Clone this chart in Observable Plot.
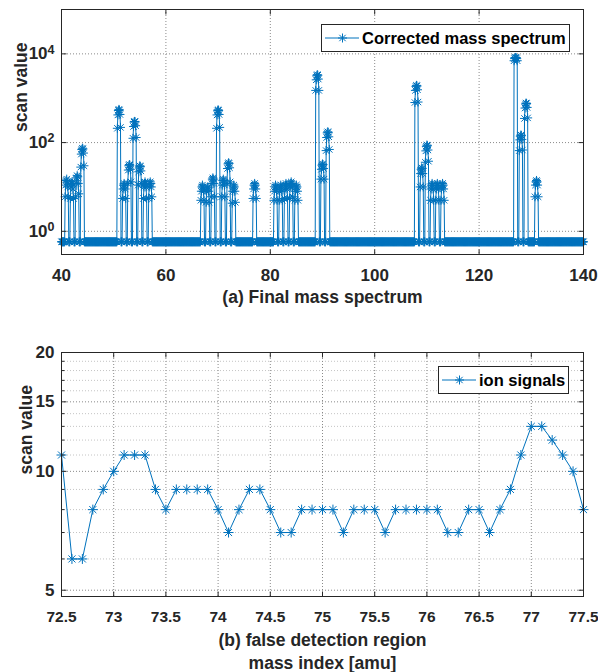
<!DOCTYPE html>
<html><head><meta charset="utf-8">
<script src="https://cdn.jsdelivr.net/npm/d3@7"></script>
<script src="https://cdn.jsdelivr.net/npm/@observablehq/plot@0.6"></script>
<style>
body{margin:0;background:#fff;}
#wrap{position:relative;width:598px;height:672px;font-family:"Liberation Sans",Arial,Helvetica,sans-serif;}
#wrap svg{display:block;}
.legend{position:absolute;background:#fff;border:1px solid #262626;box-sizing:border-box;font-weight:bold;font-size:16.5px;color:#000;white-space:nowrap;}
.legend svg{position:absolute;left:0;top:0;}
.legend span{position:absolute;left:40px;top:50%;transform:translateY(-50%);line-height:1;}
</style></head><body><div id="wrap"></div>
<script>
// ---------- data: panel (a) ----------
const baselineLevel = 0.58;
const profileOffsets = [-0.3, -0.2, -0.1, 0, 0.1, 0.2, 0.3];
const peakMasses = [41,42,43,44,51,52,53,54,55,56,57,67,68,69,70,71,72,73,77,81,82,83,84,85,89,90,91,108,109,110,111,112,113,127,128,129,131];
const peakProfiles = [
  [6, 11, 14, 15, 13, 10, 6],
  [5.5, 10, 12, 13, 12, 9, 5.5],
  [6, 12, 16, 18, 17, 12, 7],
  [28, 55, 70, 75, 72, 58, 30],
  [210, 420, 530, 560, 540, 430, 220],
  [5.5, 9, 11, 12, 11, 9, 5.5],
  [12, 24, 30, 32, 31, 25, 13],
  [125, 230, 290, 300, 295, 240, 130],
  [11, 22, 28, 30, 29, 23, 12],
  [5.5, 10, 12, 13, 12, 10, 5.5],
  [5.5, 10, 12, 13, 12, 10, 6],
  [5, 8, 10, 11, 10, 8, 5],
  [4.5, 8, 9.5, 10, 9.5, 8, 4.5],
  [6, 12, 15, 16, 15, 12, 6],
  [210, 420, 520, 550, 530, 430, 220],
  [6, 11, 14, 15, 14, 11, 6],
  [12, 26, 33, 35, 34, 27, 13],
  [4.3, 8, 10, 11, 10, 8, 4.5],
  [5.5, 9, 11, 12, 11, 9, 5.5],
  [5, 8, 10, 11, 10, 8, 5],
  [5, 8, 10, 11, 10, 8, 5],
  [5.5, 9, 11, 12, 11, 9, 5.5],
  [5.5, 10, 12, 13, 12, 10, 6],
  [5, 8, 10, 11, 10, 8, 5],
  [1500, 2600, 3200, 3400, 3300, 2700, 1500],
  [15, 25, 31, 33, 32, 26, 15],
  [66, 130, 165, 175, 170, 135, 70],
  [800, 1500, 1850, 1950, 1900, 1550, 820],
  [10, 20, 25, 27, 26, 20, 10],
  [36, 65, 82, 88, 85, 68, 38],
  [5, 9, 11, 12, 11, 9, 5],
  [5, 9, 11, 12, 11, 9, 5],
  [5, 9, 11, 12, 11, 9, 5],
  [7000, 7800, 8200, 8300, 8200, 7800, 7000],
  [66, 115, 140, 148, 145, 118, 68],
  [350, 600, 740, 780, 760, 620, 360],
  [6, 11, 13, 14, 13, 11, 6]
];
const xTicksA = [40, 60, 80, 100, 120, 140];
const yTicksA = [1, 100, 10000];

// ---------- data: panel (b) ----------
const zoomSignal = [11,6,6,8,9, 10,11,11,11,9,8,9,9,9,9, 8,7,8,9,9,8,7,7,8,8, 8,8,7,8,8,8,7,8,8,8, 8,8,7,7,8,8,7,8,9,11, 13,13,12,11,10,8];
const xTicksB = [72.5, 73, 73.5, 74, 74.5, 75, 75.5, 76, 76.5, 77, 77.5];
const yTicksB = [5, 10, 15, 20];
const yMinorB = [6, 7, 8, 9, 11, 12, 13, 14, 16, 17, 18, 19];

// ---------- build tables ----------
const spectrum = d3.range(400, 1401).map(i => ({mass: i / 10, value: baselineLevel}));
peakMasses.forEach((m, k) => peakProfiles[k].forEach((v, j) => {
  const idx = Math.round((m + profileOffsets[j]) * 10) - 400;
  spectrum[idx].value = v;
}));
const zoomData = zoomSignal.map((v, i) => ({mass: (725 + i) / 10, value: v}));

// ---------- styling helpers ----------
const blue = "#0072BD";
const ink = "#262626";
const font = '"Liberation Sans", Arial, Helvetica, sans-serif';
const asterisk = {draw(c, size) {
  const r = Math.sqrt(size / Math.PI), d = r * Math.SQRT1_2;
  c.moveTo(-r, 0); c.lineTo(r, 0); c.moveTo(0, -r); c.lineTo(0, r);
  c.moveTo(-d, -d); c.lineTo(d, d); c.moveTo(-d, d); c.lineTo(d, -d);
}};
const tickSym = (dx, dy) => ({draw(c) { c.moveTo(0, 0); c.lineTo(dx, dy); }});
const gridMajor = {stroke: "#8a8a8a", strokeDasharray: "1,2", strokeWidth: 1};
const gridMinor = {stroke: "#c4c4c4", strokeDasharray: "1,2", strokeWidth: 1};
const styleObj = {fontFamily: font, fontSize: "17px", fontWeight: "bold", color: ink, background: "white", overflow: "visible"};

function tickMarks(xs, ys, xDom, yDom, len, minorYs, minorLen) {
  const m = [
    Plot.dot(xs, {x: d => d, y: yDom[0], symbol: tickSym(0, -len), r: 1, stroke: ink, fill: "none", strokeWidth: 1}),
    Plot.dot(xs, {x: d => d, y: yDom[1], symbol: tickSym(0, len), r: 1, stroke: ink, fill: "none", strokeWidth: 1}),
    Plot.dot(ys, {x: xDom[0], y: d => d, symbol: tickSym(len, 0), r: 1, stroke: ink, fill: "none", strokeWidth: 1}),
    Plot.dot(ys, {x: xDom[1], y: d => d, symbol: tickSym(-len, 0), r: 1, stroke: ink, fill: "none", strokeWidth: 1})
  ];
  if (minorYs) {
    m.push(Plot.dot(minorYs, {x: xDom[0], y: d => d, symbol: tickSym(minorLen, 0), r: 1, stroke: ink, fill: "none", strokeWidth: 1}));
    m.push(Plot.dot(minorYs, {x: xDom[1], y: d => d, symbol: tickSym(-minorLen, 0), r: 1, stroke: ink, fill: "none", strokeWidth: 1}));
  }
  return m;
}

// ---------- panel (a) ----------
const xDomA = [40, 140], yDomA = [0.3, 1e5];
const plotA = Plot.plot({
  width: 598, height: 320,
  marginTop: 9, marginBottom: 66, marginLeft: 61, marginRight: 15,
  style: styleObj,
  x: {domain: xDomA, ticks: xTicksA, tickSize: 0, tickPadding: 14, label: null, tickFormat: d => String(d)},
  y: {type: "log", domain: yDomA, ticks: yTicksA, tickSize: 0, tickPadding: 7, label: null,
      tickFormat: d => "10^" + Math.round(Math.log10(d))},
  marks: [
    Plot.ruleX(xTicksA.slice(1, -1), gridMajor),
    Plot.ruleY(yTicksA, gridMajor),
    Plot.line(spectrum, {x: "mass", y: "value", stroke: blue, strokeWidth: 1}),
    Plot.dot(spectrum, {x: "mass", y: "value", symbol: asterisk, r: 4.5, stroke: blue, fill: "none", strokeWidth: 1}),
    Plot.frame({stroke: ink, strokeWidth: 1}),
    ...tickMarks(xTicksA, yTicksA, xDomA, yDomA, 5),
    Plot.text(["(a) Final mass spectrum"], {text: d => d, frameAnchor: "bottom", dy: 43, fontSize: 17.5, fontWeight: "bold", fill: ink, lineAnchor: "middle"}),
    Plot.text(["scan value"], {text: d => d, frameAnchor: "left", dx: -40, rotate: -90, fontSize: 17.5, fontWeight: "bold", fill: ink, lineAnchor: "middle"})
  ]
});

// ---------- panel (b) ----------
const xDomB = [72.5, 77.5], yDomB = [4.82, 20];
const plotB = Plot.plot({
  width: 598, height: 352,
  marginTop: 32, marginBottom: 76, marginLeft: 61, marginRight: 15,
  style: styleObj,
  x: {domain: xDomB, ticks: xTicksB, tickSize: 0, tickPadding: 14, label: null, tickFormat: d => String(d)},
  y: {type: "log", domain: yDomB, ticks: yTicksB, tickSize: 0, tickPadding: 7, label: null, tickFormat: d => String(d)},
  marks: [
    Plot.ruleY(yMinorB, gridMinor),
    Plot.ruleX(xTicksB.slice(1, -1), gridMajor),
    Plot.ruleY(yTicksB.slice(0, -1), gridMajor),
    Plot.line(zoomData, {x: "mass", y: "value", stroke: blue, strokeWidth: 1}),
    Plot.dot(zoomData, {x: "mass", y: "value", symbol: asterisk, r: 5, stroke: blue, fill: "none", strokeWidth: 1}),
    Plot.frame({stroke: ink, strokeWidth: 1}),
    ...tickMarks(xTicksB, yTicksB, xDomB, yDomB, 5, yMinorB, 3),
    Plot.text(["(b) false detection region"], {text: d => d, frameAnchor: "bottom", dy: 44, fontSize: 17.5, fontWeight: "bold", fill: ink, lineAnchor: "middle"}),
    Plot.text(["mass index [amu]"], {text: d => d, frameAnchor: "bottom", dy: 67, fontSize: 17.5, fontWeight: "bold", fill: ink, lineAnchor: "middle"}),
    Plot.text(["scan value"], {text: d => d, frameAnchor: "left", dx: -35, rotate: -90, fontSize: 17.5, fontWeight: "bold", fill: ink, lineAnchor: "middle"})
  ]
});

// superscript exponents on the log axis of panel (a)
plotA.querySelectorAll("text").forEach(t => {
  const m = /^10\^(\d+)$/.exec(t.textContent.trim());
  if (!m) return;
  const target = t.querySelector("tspan") || t;
  target.textContent = "10";
  const sup = document.createElementNS("http://www.w3.org/2000/svg", "tspan");
  sup.setAttribute("dy", "-0.45em");
  sup.setAttribute("font-size", "12.5px");
  sup.textContent = m[1];
  target.appendChild(sup);
});
// slightly smaller x tick labels in panel (b) so the last one stays inside the page
const xLabelsB = new Set(xTicksB.map(String));
plotB.querySelectorAll("text").forEach(t => {
  if (xLabelsB.has(t.textContent.trim())) t.style.fontSize = "15.5px";
});

const wrap = document.getElementById("wrap");
wrap.appendChild(plotA);
wrap.appendChild(plotB);

// ---------- legends ----------
function legend(label, left, top, w, h) {
  const div = document.createElement("div");
  div.className = "legend";
  Object.assign(div.style, {left: left + "px", top: top + "px", width: w + "px", height: h + "px"});
  const cy = (h - 2) / 2;
  const r = 4.5, d = r * Math.SQRT1_2, cx = 20.5;
  div.innerHTML = `<svg width="40" height="${h}"><line x1="3" x2="37" y1="${cy}" y2="${cy}" stroke="${blue}" stroke-width="1"/>` +
    `<path d="M${cx - r},${cy}L${cx + r},${cy}M${cx},${cy - r}L${cx},${cy + r}M${cx - d},${cy - d}L${cx + d},${cy + d}M${cx - d},${cy + d}L${cx + d},${cy - d}" stroke="${blue}" fill="none" stroke-width="1"/></svg>` +
    `<span>${label}</span>`;
  wrap.appendChild(div);
}
legend("Corrected mass spectrum", 321, 24, 249, 28);
legend("ion signals", 438, 366, 131, 28);
</script></body></html>
